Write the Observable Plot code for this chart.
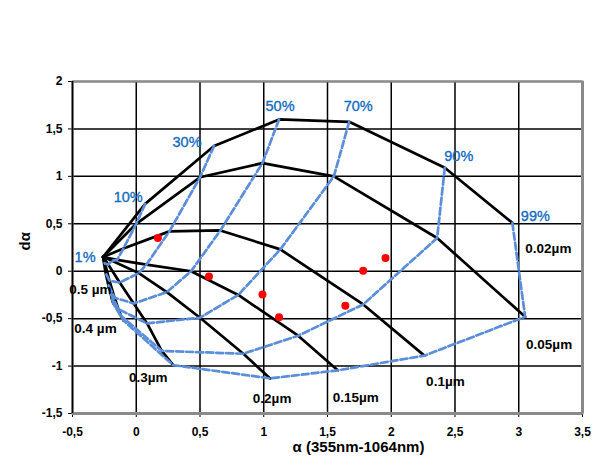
<!DOCTYPE html>
<html>
<head>
<meta charset="utf-8">
<script src="https://cdn.jsdelivr.net/npm/d3@7"></script>
<script src="https://cdn.jsdelivr.net/npm/@observablehq/plot@0.6"></script>
<style>
  html, body { margin: 0; padding: 0; background: #fff; }
  #chart { width: 597px; height: 472px; }
</style>
</head>
<body>
<div id="chart"></div>
<script>
// ---- data ----
const xTicks = [-0.5, 0, 0.5, 1, 1.5, 2, 2.5, 3, 3.5];
const yTicks = [-1.5, -1, -0.5, 0, 0.5, 1, 1.5, 2];
const xTitle = "α (355nm-1064nm)";
const yTitle = "dα";

const fractions = ["1%", "10%", "30%", "50%", "70%", "90%", "99%"];
const radii = ["0.02µm", "0.05µm", "0.1µm", "0.15µm", "0.2µm", "0.3µm", "0.4 µm", "0.5 µm"];

// α and dα for each fine-mode radius, one value per fraction (1% ... 99%)
const alpha_r002 = [-0.26, 0.07, 0.61, 1.12, 1.67, 2.42, 2.95];
const dalpha_r002 = [0.15, 0.71, 1.32, 1.60, 1.575, 1.09, 0.51];
const alpha_r005 = [-0.26, 0.0, 0.50, 0.99, 1.55, 2.36, 3.05];
const dalpha_r005 = [0.15, 0.50, 0.99, 1.14, 1.0, 0.35, -0.48];
const alpha_r010 = [-0.26, -0.10, 0.26, 0.66, 1.13, 1.78, 2.26];
const dalpha_r010 = [0.15, 0.24, 0.42, 0.43, 0.23, -0.35, -0.89];
const alpha_r015 = [-0.26, -0.15, 0.08, 0.43, 0.80, 1.27, 1.58];
const dalpha_r015 = [0.15, 0.12, 0.07, 0.0, -0.25, -0.68, -1.045];
const alpha_r020 = [-0.26, -0.19, 0.02, 0.24, 0.50, 0.84, 1.05];
const dalpha_r020 = [0.15, 0.11, -0.02, -0.22, -0.49, -0.87, -1.13];
const alpha_r030 = [-0.26, -0.22, -0.13, -0.02, 0.085, 0.20, 0.29];
const dalpha_r030 = [0.15, 0.07, -0.12, -0.34, -0.55, -0.84, -0.99];
const alpha_r040 = [-0.26, -0.245, -0.21, -0.17, -0.14, -0.12, -0.10];
const dalpha_r040 = [0.15, 0.08, -0.10, -0.28, -0.40, -0.47, -0.52];
const alpha_r050 = [-0.26, -0.255, -0.24, -0.22, -0.20, -0.19, -0.18];
const dalpha_r050 = [0.15, 0.10, -0.02, -0.14, -0.24, -0.30, -0.34];

// measured points (red)
const obsAlpha = [0.17, 0.57, 0.99, 1.12, 1.64, 1.78, 1.955];
const obsDalpha = [0.35, -0.055, -0.245, -0.485, -0.365, 0.005, 0.14];

// ---- build tables ----
const alphaByRadius = [alpha_r002, alpha_r005, alpha_r010, alpha_r015, alpha_r020, alpha_r030, alpha_r040, alpha_r050];
const dalphaByRadius = [dalpha_r002, dalpha_r005, dalpha_r010, dalpha_r015, dalpha_r020, dalpha_r030, dalpha_r040, dalpha_r050];

const grid = [];
radii.forEach((r, i) => {
  fractions.forEach((f, j) => {
    grid.push({radius: r, fraction: f, alpha: alphaByRadius[i][j], dalpha: dalphaByRadius[i][j]});
  });
});
const obs = obsAlpha.map((a, i) => ({alpha: a, dalpha: obsDalpha[i]}));

// ---- label layout (offsets in px, not data) ----
const fracLabelOffset = {
  "1%": [-18, 0], "10%": [-17, -7], "30%": [-27, -4], "50%": [1, -13],
  "70%": [9, -15], "90%": [14, -11], "99%": [23, -6]
};
const radLabelOffset = {
  "0.02µm": [36, 26], "0.05µm": [24, 28], "0.1µm": [21, 26], "0.15µm": [18, 27],
  "0.2µm": [2, 20], "0.3µm": [-25, 13], "0.4 µm": [-28, 8], "0.5 µm": [-23, -14]
};

const fmt = d => String(d).replace(".", ",");
const blueText = "#126bc0";
const blueLine = "#5a8ed8";
const font = "'Liberation Sans', Arial, sans-serif";

const fracLabelMarks = fractions.map(f => {
  const node = grid.find(d => d.fraction === f && d.radius === radii[0]);
  return Plot.text([node], {
    x: "alpha", y: "dalpha", text: d => d.fraction,
    dx: fracLabelOffset[f][0], dy: fracLabelOffset[f][1],
    fill: blueText, stroke: blueText, strokeWidth: 0.35,
    fontSize: 14.5, fontWeight: "normal", fontFamily: font
  });
});
const radLabelMarks = radii.map(r => {
  const node = grid.find(d => d.radius === r && d.fraction === fractions[fractions.length - 1]);
  return Plot.text([node], {
    x: "alpha", y: "dalpha", text: d => d.radius,
    dx: radLabelOffset[r][0], dy: radLabelOffset[r][1],
    fill: "#000", fontSize: 13.5, fontWeight: "bold", fontFamily: font
  });
});

const chart = Plot.plot({
  width: 597,
  height: 472,
  marginLeft: 72,
  marginRight: 15,
  marginTop: 81,
  marginBottom: 59,
  style: {
    fontFamily: font,
    fontSize: "12px",
    fontWeight: "bold",
    background: "#fff",
    color: "#000"
  },
  x: {domain: [xTicks[0], xTicks[xTicks.length - 1]], ticks: xTicks, tickFormat: fmt, tickSize: 4, tickPadding: 10, label: null},
  y: {domain: [yTicks[0], yTicks[yTicks.length - 1]], ticks: yTicks, tickFormat: fmt, tickSize: 4, tickPadding: 6, label: null},
  marks: [
    Plot.ruleX(xTicks, {stroke: "#000", strokeWidth: 1.5}),
    Plot.ruleY(yTicks, {stroke: "#000", strokeWidth: 1.5}),
    Plot.frame({stroke: "#8a8a8a", strokeWidth: 2}),
    Plot.ruleY([yTicks[0]], {stroke: "#8a8a8a", strokeWidth: 3}),
    Plot.ruleX([xTicks[xTicks.length - 1]], {stroke: "#8a8a8a", strokeWidth: 3}),
    Plot.ruleX([xTicks[0]], {stroke: "#000", strokeWidth: 1.5}),
    Plot.line(grid, {x: "alpha", y: "dalpha", z: "radius", stroke: "#000", strokeWidth: 2.7, strokeLinejoin: "round"}),
    Plot.line(grid.filter(d => d.fraction !== fractions[0]), {
      x: "alpha", y: "dalpha", z: "fraction", stroke: blueLine, strokeWidth: 2.7,
      strokeDasharray: "7,3", strokeLinejoin: "round"
    }),
    Plot.dot(obs, {x: "alpha", y: "dalpha", r: 4, fill: "#ff0000", stroke: "none"}),
    ...fracLabelMarks,
    ...radLabelMarks,
    Plot.text([xTitle], {frameAnchor: "bottom", dx: 31, dy: 38, text: d => d, fontSize: 15, fontWeight: "bold", fill: "#000"}),
    Plot.text([yTitle], {frameAnchor: "left", dx: -47, dy: 3, rotate: -90, text: d => d, fontSize: 15, fontWeight: "bold", fill: "#000"})
  ]
});
document.getElementById("chart").appendChild(chart);
</script>
</body>
</html>
